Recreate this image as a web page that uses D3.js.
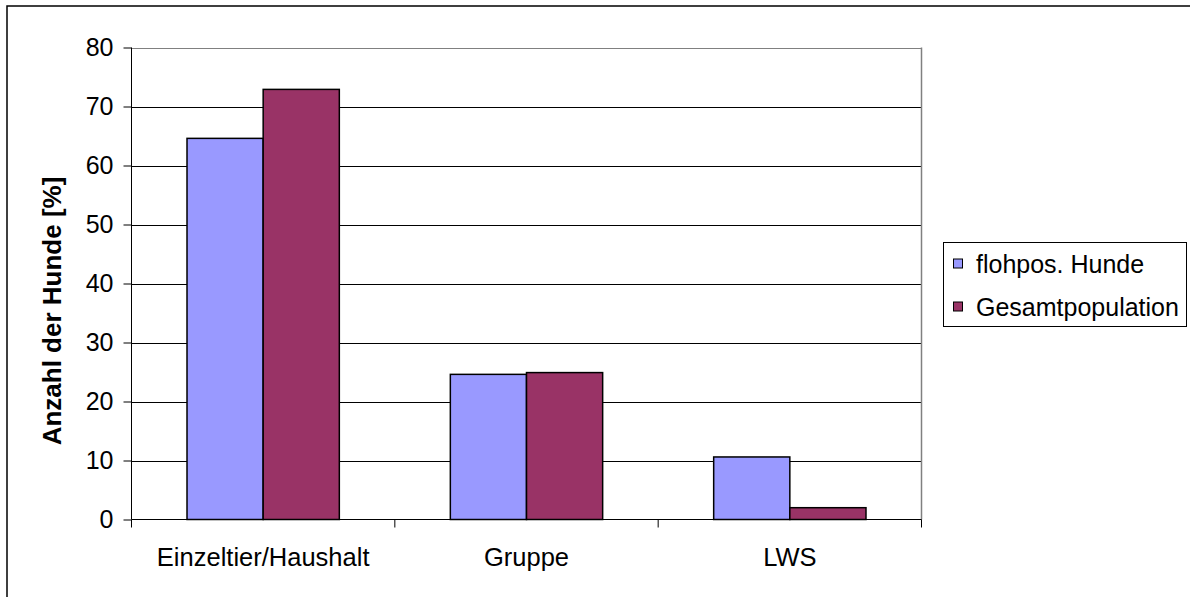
<!DOCTYPE html>
<html>
<head>
<meta charset="utf-8">
<script src="https://cdn.jsdelivr.net/npm/d3@7"></script>
<style>
  html, body { margin: 0; padding: 0; background: #fff; }
  svg { display: block; }
  text { font-family: "Liberation Sans", Arial, sans-serif; fill: #000; }
</style>
</head>
<body>
<svg id="chart" width="1190" height="597"></svg>
<script>
const categories = ["Einzeltier/Haushalt", "Gruppe", "LWS"];
const seriesNames = ["flohpos. Hunde", "Gesamtpopulation"];
const flohposValues = [64.6, 24.6, 10.6];
const gesamtValues = [72.9, 24.9, 2.0];
const yTicks = [0, 10, 20, 30, 40, 50, 60, 70, 80];
const yLabel = "Anzahl der Hunde [%]";
const colors = ["#9999FF", "#993366"];

const seriesValues = [flohposValues, gesamtValues];

const svg = d3.select("#chart");
const plot = { left: 131.5, right: 921.5, top: 47.5, bottom: 519.5 };

// outer chart border (only top/left visible in frame)
svg.append("rect").attr("x", 7).attr("y", 6).attr("width", 1200).attr("height", 620)
  .attr("fill", "none").attr("stroke", "#000").attr("stroke-width", 1.5);

const y = d3.scaleLinear().domain([0, 80]).range([plot.bottom, plot.top]);
const x0 = d3.scaleBand().domain(categories).range([plot.left, plot.right]).padding(0);
const gapRatio = 111 / 263.3;
const x1 = d3.scaleBand().domain(seriesNames)
  .range([x0.bandwidth() * gapRatio / 2, x0.bandwidth() * (1 - gapRatio / 2)]).padding(0);

// gridlines
svg.append("g").selectAll("line").data(yTicks.filter(d => d > 0)).join("line")
  .attr("x1", plot.left).attr("x2", plot.right)
  .attr("y1", d => Math.round(y(d)) + 0.5).attr("y2", d => Math.round(y(d)) + 0.5)
  .attr("stroke", d => d === 80 ? "#808080" : "#000").attr("stroke-width", 1);

// right plot border
svg.append("line").attr("x1", plot.right).attr("x2", plot.right)
  .attr("y1", plot.top).attr("y2", plot.bottom).attr("stroke", "#808080").attr("stroke-width", 1.5);

// bars
const groups = svg.append("g").selectAll("g").data(categories).join("g")
  .attr("transform", d => `translate(${x0(d)},0)`);
groups.selectAll("rect")
  .data((c, i) => seriesNames.map((s, j) => ({ s, j, v: seriesValues[j][i] })))
  .join("rect")
  .attr("x", d => x1(d.s))
  .attr("width", x1.bandwidth())
  .attr("y", d => y(d.v))
  .attr("height", d => y(0) - y(d.v))
  .attr("fill", d => colors[d.j])
  .attr("stroke", "#000").attr("stroke-width", 1.5);

// y axis
const yAxis = d3.axisLeft(y).tickValues(yTicks).tickSize(8).tickPadding(10);
const gy = svg.append("g").attr("transform", `translate(${plot.left},0)`).call(yAxis);
gy.select(".domain").attr("stroke", "#000").attr("stroke-width", 1).attr("d", `M0,${plot.top}V${plot.bottom}`);
gy.selectAll(".tick line").attr("stroke", "#000");
gy.selectAll(".tick text").attr("font-size", 25).attr("font-family", "Liberation Sans, Arial, sans-serif").attr("fill", "#000");

// x axis
const boundaries = categories.map(c => x0(c)).concat([plot.right]);
svg.append("line").attr("x1", plot.left).attr("x2", plot.right)
  .attr("y1", plot.bottom).attr("y2", plot.bottom).attr("stroke", "#000").attr("stroke-width", 1);
svg.append("g").selectAll("line").data(boundaries).join("line")
  .attr("x1", d => d).attr("x2", d => d)
  .attr("y1", plot.bottom).attr("y2", plot.bottom + 8)
  .attr("stroke", "#000").attr("stroke-width", 1);
svg.append("g").selectAll("text").data(categories).join("text")
  .attr("x", d => x0(d) + x0.bandwidth() / 2)
  .attr("y", 566)
  .attr("text-anchor", "middle")
  .attr("font-size", 25.5)
  .text(d => d);

// y label
svg.append("text")
  .attr("transform", `translate(61,311) rotate(-90)`)
  .attr("text-anchor", "middle")
  .attr("font-size", 26)
  .attr("font-weight", "bold")
  .text(yLabel);

// legend
const legend = svg.append("g");
legend.append("rect").attr("x", 943.5).attr("y", 242.5).attr("width", 243).attr("height", 84)
  .attr("fill", "#fff").attr("stroke", "#000").attr("stroke-width", 1);
const items = legend.selectAll("g.item").data(seriesNames).join("g").attr("class", "item")
  .attr("transform", (d, i) => `translate(0,${264 + i * 43})`);
items.append("rect").attr("x", 953.5).attr("y", -5).attr("width", 9).attr("height", 9)
  .attr("fill", (d, i) => colors[i]).attr("stroke", "#000").attr("stroke-width", 1);
items.append("text").attr("x", 976).attr("y", 8.5).attr("font-size", 25).text(d => d);
</script>
</body>
</html>
